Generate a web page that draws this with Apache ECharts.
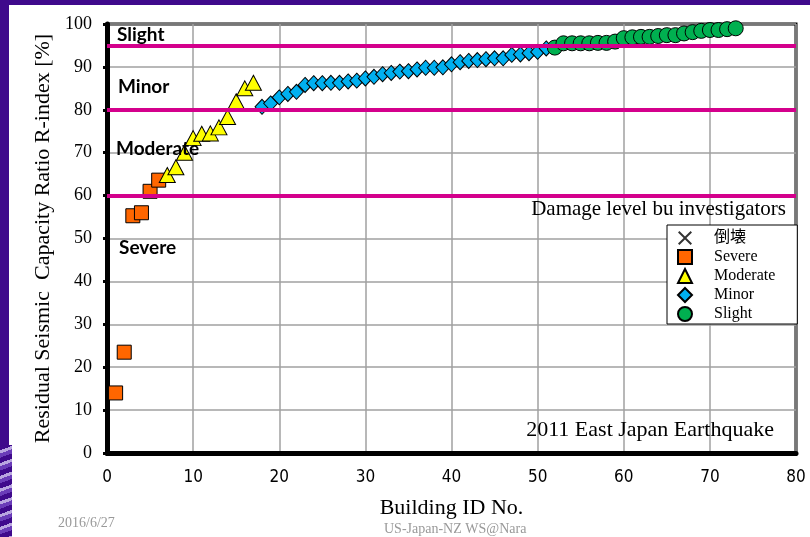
<!DOCTYPE html>
<html>
<head>
<meta charset="utf-8">
<script src="https://cdn.jsdelivr.net/npm/echarts@6/dist/echarts.min.js"></script>
<style>
  html, body { margin: 0; padding: 0; background: #fff; }
  #frame { position: relative; width: 810px; height: 537px; background: #fff; overflow: hidden; }
  #topband { position: absolute; left: 0; top: 0; width: 810px; height: 5px; background: #3f0a8c; }
  #leftband { position: absolute; left: 0; top: 0; width: 9px; height: 537px; background: #3f0a8c; }
  #leftdeco { position: absolute; left: 0; top: 445px; width: 12px; height: 92px;
    background: repeating-linear-gradient(160deg, #3f0a8c 0 5px, #b9a6e0 5px 8px, #6a3cb8 8px 12px); }
  #chart { position: absolute; left: 0; top: 0; width: 810px; height: 537px; }
</style>
</head>
<body>
<div id="frame">
  <div id="chart"></div>
  <div id="topband"></div>
  <div id="leftband"></div>
  <div id="leftdeco"></div>
</div>
<script>
// Building ID numbers and R-index values [%] grouped by damage level
const severeIds = [1, 2, 3, 4, 5, 6];
const severeVals = [14.0, 23.5, 55.3, 56.0, 61.0, 63.6];

const moderateIds = [7, 8, 9, 10, 11, 12, 13, 14, 15, 16, 17];
const moderateVals = [64.8, 66.6, 70.0, 73.4, 74.4, 74.5, 75.9, 78.3, 82.0, 85.0, 86.3];

const minorIds = [18, 19, 20, 21, 22, 23, 24, 25, 26, 27, 28, 29, 30, 31, 32, 33, 34,
  35, 36, 37, 38, 39, 40, 41, 42, 43, 44, 45, 46, 47, 48, 49, 50, 51];
const minorVals = [80.7, 81.5, 82.9, 83.7, 84.2, 85.8, 86.2, 86.2, 86.3, 86.3, 86.6, 86.8,
  87.3, 87.7, 88.3, 88.6, 88.9, 89.0, 89.4, 89.8, 89.8, 89.9, 90.6, 91.1, 91.4, 91.6,
  91.8, 92.0, 92.0, 92.8, 92.9, 93.2, 93.5, 94.3];

const slightIds = [52, 53, 54, 55, 56, 57, 58, 59, 60, 61, 62, 63, 64, 65, 66, 67, 68,
  69, 70, 71, 72, 73];
const slightVals = [94.5, 95.5, 95.5, 95.5, 95.5, 95.6, 95.6, 95.9, 96.7, 96.9, 97.0,
  97.0, 97.2, 97.4, 97.4, 97.8, 98.1, 98.4, 98.6, 98.6, 98.8, 99.0];

// Damage level boundaries on the R-index axis
const thresholds = [95, 80, 60];

// Zone names and legend names
const zoneNames = ['Slight', 'Minor', 'Moderate', 'Severe'];
const legendNames = ['倒壊', 'Severe', 'Moderate', 'Minor', 'Slight'];

const pairs = (ids, vals) => ids.map((id, i) => [id, vals[i]]);

const serif = '"Liberation Serif", "Times New Roman", serif';
const zoneFont = 'Lato, "Open Sans", sans-serif';
const crossPath = 'path://M0,1L1,0L5,4L9,0L10,1L6,5L10,9L9,10L5,6L1,10L0,9L4,5Z';

const chart = echarts.init(document.getElementById('chart'), null, { renderer: 'canvas' });

const markerStyle = (color) => ({ color: color, borderColor: '#000', borderWidth: 1, opacity: 1 });

chart.setOption({
  animation: false,
  backgroundColor: 'transparent',
  grid: { left: 107, right: 14, top: 24, bottom: 84, show: true, borderColor: '#000', borderWidth: 3, backgroundColor: 'transparent' },
  legend: {
    data: legendNames,
    orient: 'vertical',
    left: 667, top: 225,
    padding: [5, 22, 2, 10],
    itemGap: 3,
    itemWidth: 14, itemHeight: 14,
    backgroundColor: '#fff',
    borderColor: '#000', borderWidth: 1, borderRadius: 0,
    textStyle: { fontFamily: serif + ', "Noto Sans CJK JP"', fontSize: 16, color: '#000', padding: [0, 0, 0, 17] },
    selectedMode: false
  },
  xAxis: {
    type: 'value', min: 0, max: 80, interval: 10,
    name: 'Building ID No.', nameLocation: 'middle', nameGap: 44,
    nameTextStyle: { fontFamily: serif, fontSize: 22, color: '#000' },
    axisLine: { show: true, onZero: false, lineStyle: { color: '#000', width: 5 } },
    axisTick: { show: true, length: 3, lineStyle: { color: '#000', width: 2 } },
    axisLabel: { fontFamily: '"DejaVu Sans Condensed", "Liberation Sans Narrow", sans-serif', fontSize: 17, color: '#000', margin: 16 },
    splitLine: { show: true, lineStyle: { color: '#a0a0a0', width: 1.5 } }
  },
  yAxis: {
    type: 'value', min: 0, max: 100, interval: 10,
    name: 'Residual Seismic  Capacity Ratio R-index [%]', nameLocation: 'middle', nameGap: 50,
    nameTextStyle: { fontFamily: serif, fontSize: 22, color: '#000' },
    axisLine: { show: true, onZero: false, lineStyle: { color: '#000', width: 5 } },
    axisTick: { show: true, length: 4, lineStyle: { color: '#000', width: 3 } },
    axisLabel: { fontFamily: serif, fontSize: 18, color: '#000', margin: 15 },
    splitLine: { show: true, lineStyle: { color: '#a0a0a0', width: 1.5 } }
  },
  series: [
    {
      name: '倒壊', type: 'scatter', data: [],
      symbol: crossPath, symbolSize: 13,
      itemStyle: { color: '#000', borderWidth: 0 }
    },
    {
      name: 'Severe', type: 'scatter', data: pairs(severeIds, severeVals),
      symbol: 'rect', symbolSize: 14, z: 3,
      itemStyle: markerStyle('#ff6600')
    },
    {
      name: 'Moderate', type: 'scatter', data: pairs(moderateIds, moderateVals),
      symbol: 'triangle', symbolSize: [16, 15], z: 3,
      itemStyle: markerStyle('#ffff00')
    },
    {
      name: 'Minor', type: 'scatter', data: pairs(minorIds, minorVals),
      symbol: 'diamond', symbolSize: [14, 15], z: 3,
      itemStyle: markerStyle('#00b0f0')
    },
    {
      name: 'Slight', type: 'scatter', data: pairs(slightIds, slightVals),
      symbol: 'circle', symbolSize: 15, z: 3,
      itemStyle: markerStyle('#00b050')
    },
    {
      name: 'boundaries', type: 'line', data: [], z: 5,
      markLine: {
        silent: true, symbol: 'none', animation: false,
        label: { show: false },
        lineStyle: { color: '#d4008c', width: 4, type: 'solid' },
        data: thresholds.map(v => ({ yAxis: v }))
      }
    }
  ],
  graphic: [
    { type: 'text', left: 117, top: 25, z: 10, style: { text: zoneNames[0], font: 'bold 19px ' + zoneFont, fill: '#000' } },
    { type: 'text', left: 118, top: 77, z: 10, style: { text: zoneNames[1], font: 'bold 19px ' + zoneFont, fill: '#000' } },
    { type: 'text', left: 116, top: 139, z: 10, style: { text: zoneNames[2], font: 'bold 19px ' + zoneFont, fill: '#000' } },
    { type: 'text', left: 119, top: 238, z: 10, style: { text: zoneNames[3], font: 'bold 19px ' + zoneFont, fill: '#000' } },
    { type: 'text', right: 24, top: 199, z: 10, style: { text: 'Damage level bu investigators', font: '21px ' + serif, fill: '#000' } },
    { type: 'text', right: 36, top: 419, z: 10, style: { text: '2011 East Japan Earthquake', font: '22px ' + serif, fill: '#000' } },
    { type: 'text', left: 58, top: 516, z: 10, style: { text: '2016/6/27', font: '14px ' + serif, fill: '#999' } },
    { type: 'text', left: 384, top: 522, z: 10, style: { text: 'US-Japan-NZ WS@Nara', font: '14px ' + serif, fill: '#999' } }
  ]
});
</script>
</body>
</html>
